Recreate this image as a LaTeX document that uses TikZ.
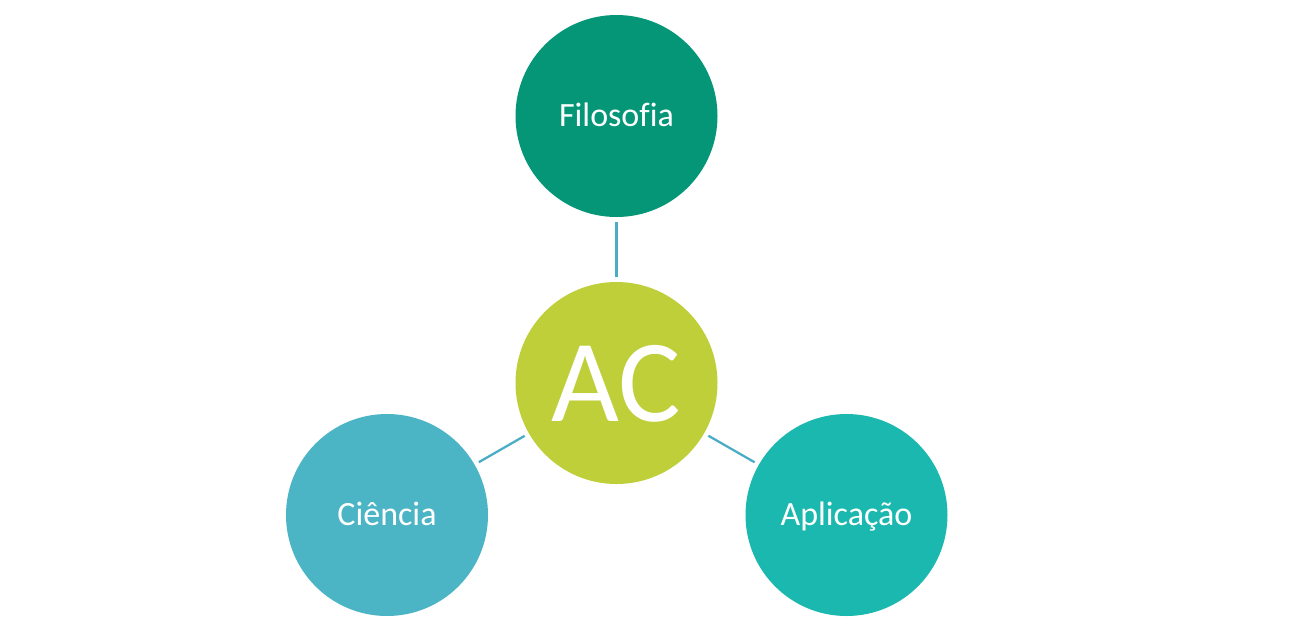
\documentclass[tikz,border=0pt]{standalone}
\usepackage{fontspec}
\setmainfont{Carlito}[Ligatures=NoCommon]
\definecolor{cFil}{RGB}{4,150,118}
\definecolor{cAC}{RGB}{191,207,58}
\definecolor{cCie}{RGB}{75,180,197}
\definecolor{cApl}{RGB}{26,184,174}
\definecolor{cLine}{RGB}{75,172,198}
\begin{document}
\begin{tikzpicture}[x=0.75pt,y=-0.75pt,
  bubble/.style={circle,minimum size=151.5pt,inner sep=0pt,text=white,text height=16.4pt,text depth=0pt,font=\fontsize{25.5}{30}\selectfont},
  link/.style={draw=cLine,line width=1.7pt,shorten >=3.5pt,shorten <=3.5pt}]
\useasboundingbox (0,0) rectangle (1300,629);
\node[bubble,fill=cFil] (fil) at (616.5,116) {Filosofia};
\node[bubble,fill=cAC,text height=57pt,font=\fontsize{88}{100}\selectfont] (ac) at (616.5,383) {AC};
\node[bubble,fill=cCie] (cie) at (387,515) {Ciência};
\node[bubble,fill=cApl] (apl) at (846.5,515) {Aplicação};
\draw[link] (fil) -- (ac);
\draw[link] (ac) -- (cie);
\draw[link] (ac) -- (apl);
\end{tikzpicture}
\end{document}
